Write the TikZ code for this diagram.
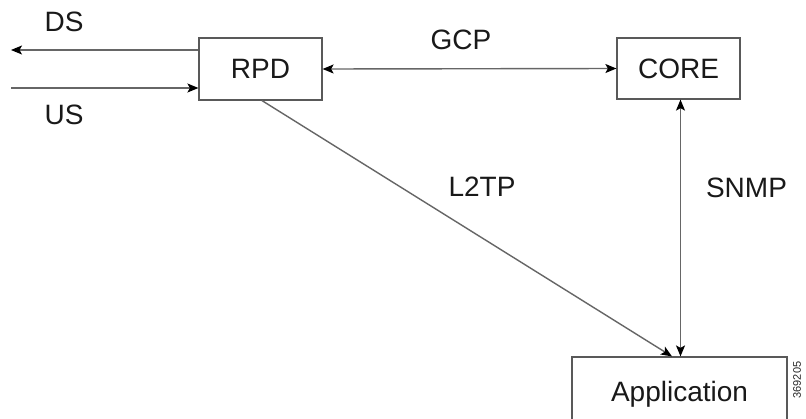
\documentclass[tikz,border=0pt]{standalone}
\usepackage{fontspec}
\setmainfont{Liberation Sans}
\usetikzlibrary{arrows.meta}
\begin{document}
\begin{tikzpicture}[x=1pt,y=-1pt,
  box/.style={draw=black!65,line width=1.2pt,inner sep=0pt,font=\fontsize{28}{30}\selectfont,text=black!90},
  lbl/.style={font=\fontsize{28}{30}\selectfont,text=black!90},
  conn/.style={draw=black!60,line width=1.4pt,-{Stealth[length=11pt,width=9pt,inset=2.5pt,black]}},
  conn2/.style={draw=black!60,line width=1.4pt,{Stealth[length=11pt,width=9pt,inset=2.5pt,black]}-{Stealth[length=11pt,width=9pt,inset=2.5pt,black]}}]
\clip (0,0) rectangle (806,418);
\fill[white] (0,0) rectangle (806,418);
\node[box,minimum width=123pt,minimum height=62pt] (rpd) at (260.5,69) {RPD};
\node[box,minimum width=123pt,minimum height=61pt] (core) at (678.5,68.5) {CORE};
\node[box,minimum width=215pt,minimum height=76pt,text depth=8pt] (app) at (679.5,395) {Application};
\coordinate (dsend) at (11,50);
\coordinate (usstart) at (11,88);
\draw[conn] (rpd.west|-dsend) -- (dsend);
\draw[conn] (usstart) -- (rpd.west|-usstart);
\draw[conn2] (rpd.east) -- (core.west);
\draw[conn] ([xshift=1.5pt]rpd.south) -- ([xshift=-7.5pt]app.north);
\draw[conn2] ([xshift=2pt]core.south) -- ([xshift=1pt]app.north);
\node[lbl] (ds) at (64,22) {DS};
\node[lbl] (us) at (64,115) {US};
\node[lbl] (gcp) at (461,40) {GCP};
\node[lbl] (l2tp) at (482,187) {L2TP};
\node[lbl] (snmp) at (746.5,188) {SNMP};
\node[font=\fontsize{11}{12}\selectfont,rotate=90,text=black!85] (id) at (797,380) {369205};
\end{tikzpicture}
\end{document}
